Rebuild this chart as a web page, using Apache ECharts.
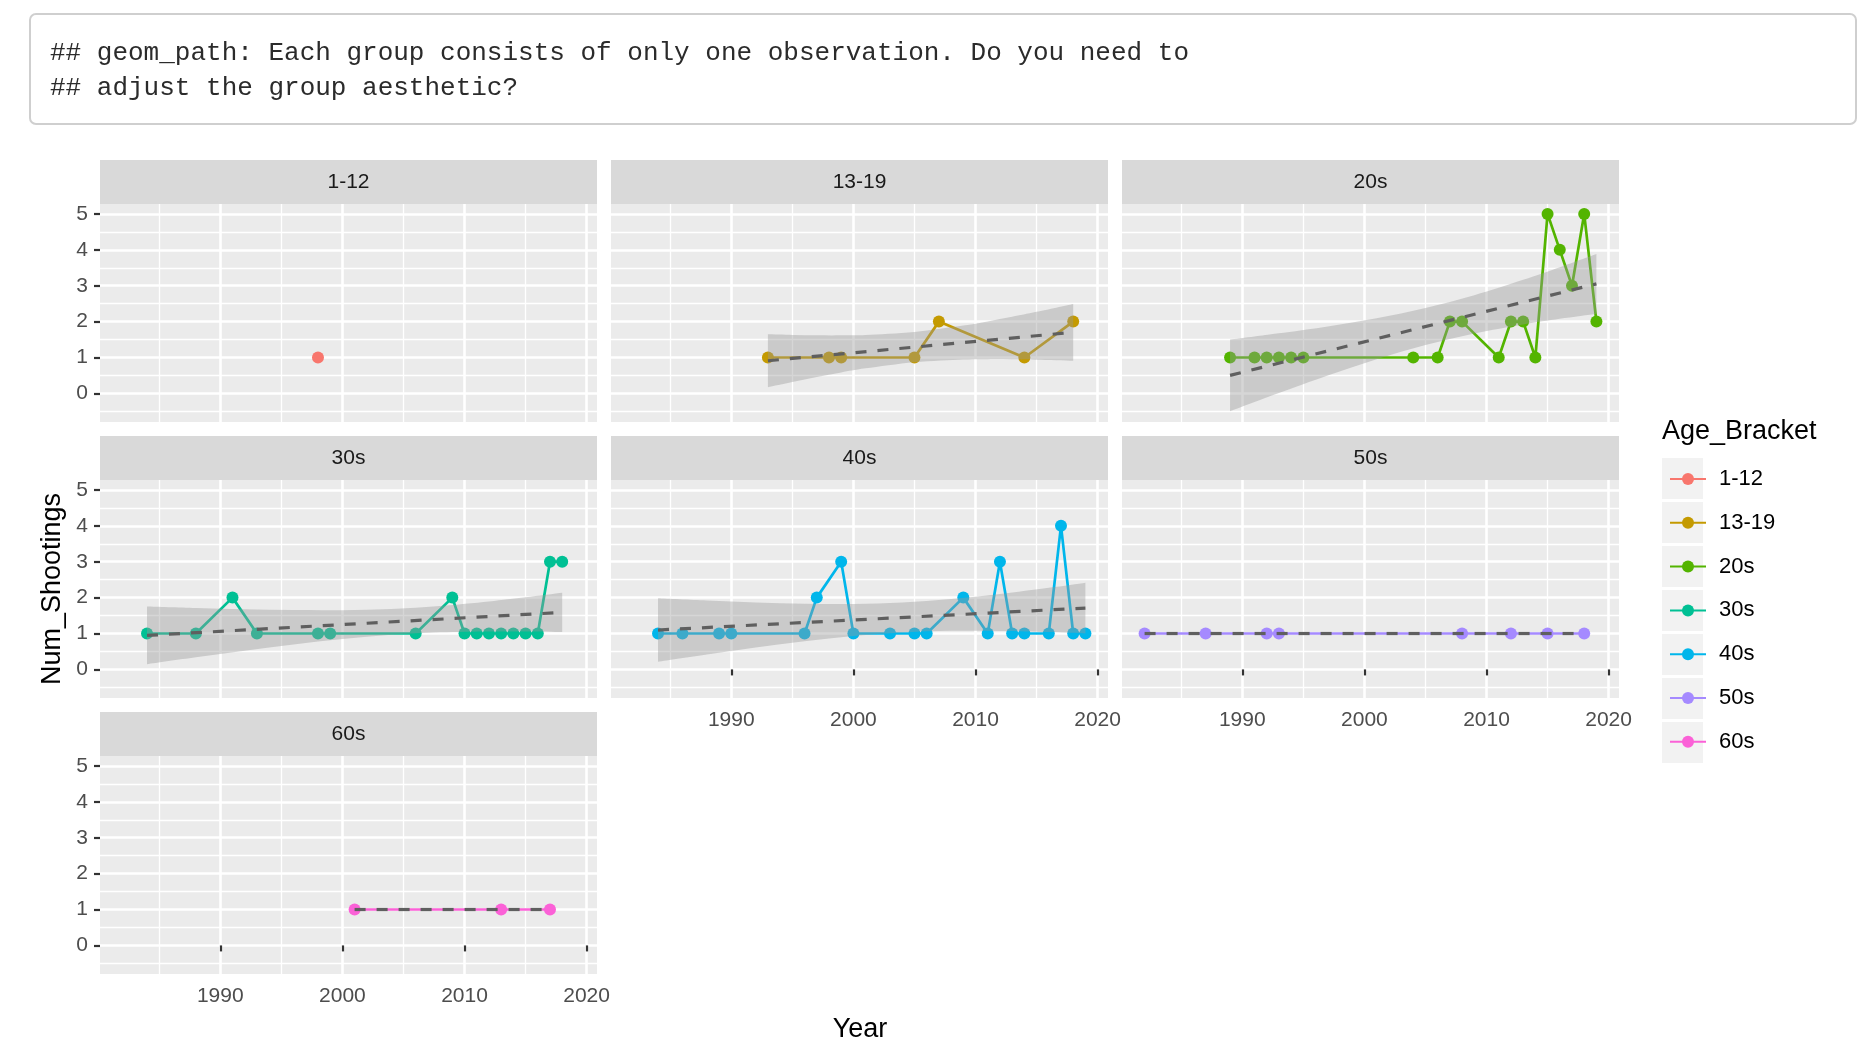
<!DOCTYPE html>
<html>
<head>
<meta charset="utf-8">
<script src="https://cdn.jsdelivr.net/npm/echarts@6/dist/echarts.min.js"></script>
<style>
html,body{margin:0;padding:0;background:#fff;}
#chart{width:1864px;height:1052px;}
</style>
</head>
<body>
<div id="chart"></div>
<script>
// ---------------- data ----------------
const brackets = ['1-12', '13-19', '20s', '30s', '40s', '50s', '60s'];
const colors = ['#F8766D', '#C49A00', '#53B400', '#00C094', '#00B6EB', '#A58AFF', '#FB61D7'];

const years_1_12 = [1998];
const shoot_1_12 = [1];
const years_13_19 = [1993, 1998, 1999, 2005, 2007, 2014, 2018];
const shoot_13_19 = [1, 1, 1, 1, 2, 1, 2];
const years_20s = [1989, 1991, 1992, 1993, 1994, 1995, 2004, 2006, 2007, 2008, 2011, 2012, 2013, 2014, 2015, 2016, 2017, 2018, 2019];
const shoot_20s = [1, 1, 1, 1, 1, 1, 1, 1, 2, 2, 1, 2, 2, 1, 5, 4, 3, 5, 2];
const years_30s = [1984, 1988, 1991, 1993, 1998, 1999, 2006, 2009, 2010, 2011, 2012, 2013, 2014, 2015, 2016, 2017, 2018];
const shoot_30s = [1, 1, 2, 1, 1, 1, 1, 2, 1, 1, 1, 1, 1, 1, 1, 3, 3];
const years_40s = [1984, 1986, 1989, 1990, 1996, 1997, 1999, 2000, 2003, 2005, 2006, 2009, 2011, 2012, 2013, 2014, 2016, 2017, 2018, 2019];
const shoot_40s = [1, 1, 1, 1, 1, 2, 3, 1, 1, 1, 1, 2, 1, 3, 1, 1, 1, 4, 1, 1];
const years_50s = [1982, 1987, 1992, 1993, 2008, 2012, 2015, 2018];
const shoot_50s = [1, 1, 1, 1, 1, 1, 1, 1];
const years_60s = [2001, 2013, 2017];
const shoot_60s = [1, 1, 1];

// dashed trend line (start / end)
const trendYears_13_19 = [1993, 2018]; const trendVals_13_19 = [0.910, 1.702];
const trendYears_20s = [1989, 2019];   const trendVals_20s = [0.503, 3.052];
const trendYears_30s = [1984, 2018];   const trendVals_30s = [0.948, 1.588];
const trendYears_40s = [1984, 2019];   const trendVals_40s = [1.097, 1.709];
const trendYears_50s = [1982, 2018];   const trendVals_50s = [1, 1];
const trendYears_60s = [2001, 2017];   const trendVals_60s = [1, 1];

// grey confidence band edges
const bandYears_13_19 = [1993, 1995, 1997, 1999, 2001, 2005, 2009, 2011, 2013, 2015, 2018];
const bandLow_13_19 = [0.174, 0.318, 0.456, 0.584, 0.698, 0.868, 0.945, 0.955, 0.952, 0.940, 0.912];
const bandHigh_13_19 = [1.646, 1.629, 1.618, 1.617, 1.629, 1.712, 1.889, 2.006, 2.135, 2.273, 2.493];
const bandYears_20s = [1989, 1991, 1993, 1997, 2001, 2005, 2009, 2013, 2016, 2019];
const bandLow_20s = [-0.496, -0.241, 0.011, 0.499, 0.953, 1.349, 1.670, 1.921, 2.079, 2.220];
const bandHigh_20s = [1.502, 1.587, 1.675, 1.867, 2.092, 2.376, 2.735, 3.163, 3.515, 3.884];
const bandYears_30s = [1984, 1988, 1992, 1996, 2000, 2004, 2008, 2012, 2015, 2018];
const bandLow_30s = [0.145, 0.337, 0.522, 0.695, 0.846, 0.963, 1.032, 1.057, 1.054, 1.039];
const bandHigh_30s = [1.750, 1.709, 1.674, 1.652, 1.651, 1.686, 1.767, 1.893, 2.009, 2.136];
const bandYears_40s = [1984, 1988, 1992, 1996, 2000, 2004, 2008, 2012, 2016, 2019];
const bandLow_40s = [0.215, 0.417, 0.609, 0.783, 0.929, 1.029, 1.074, 1.072, 1.039, 1.003];
const bandHigh_40s = [1.979, 1.917, 1.865, 1.830, 1.825, 1.864, 1.959, 2.101, 2.273, 2.415];

const xTickLabels = [1990, 2000, 2010, 2020];
const yTickLabels = [0, 1, 2, 3, 4, 5];
const messageLines = ['## geom_path: Each group consists of only one observation. Do you need to',
                      '## adjust the group aesthetic?'];

// ---------------- assembly ----------------
const panels = [
  {years: years_1_12, vals: shoot_1_12},
  {years: years_13_19, vals: shoot_13_19, tY: trendYears_13_19, tV: trendVals_13_19, bY: bandYears_13_19, bL: bandLow_13_19, bH: bandHigh_13_19},
  {years: years_20s, vals: shoot_20s, tY: trendYears_20s, tV: trendVals_20s, bY: bandYears_20s, bL: bandLow_20s, bH: bandHigh_20s},
  {years: years_30s, vals: shoot_30s, tY: trendYears_30s, tV: trendVals_30s, bY: bandYears_30s, bL: bandLow_30s, bH: bandHigh_30s},
  {years: years_40s, vals: shoot_40s, tY: trendYears_40s, tV: trendVals_40s, bY: bandYears_40s, bL: bandLow_40s, bH: bandHigh_40s},
  {years: years_50s, vals: shoot_50s, tY: trendYears_50s, tV: trendVals_50s},
  {years: years_60s, vals: shoot_60s, tY: trendYears_60s, tV: trendVals_60s}
];

const FONT = '"Liberation Sans", Arial, Helvetica, sans-serif';
const colLeft = [100, 611, 1122];
const rowTop = [204, 480, 756];
const PW = 497, PH = 218, STRIP = 44;
const showY = [true, false, false, true, false, false, true];
const showX = [false, false, false, false, true, true, true];

const grids = [], xAxes = [], yAxes = [], series = [], graphics = [];

graphics.push({type: 'rect', shape: {x: 30, y: 14, width: 1826, height: 110, r: 6},
  style: {fill: '#ffffff', stroke: '#cfcfcf', lineWidth: 2}, z: 0});
messageLines.forEach((t, k) => graphics.push({type: 'text', x: 50, y: 53 + k * 35,
  style: {text: t, fontFamily: '"Liberation Mono", "Courier New", monospace', fontSize: 26,
          fill: '#2b2b2b', verticalAlign: 'middle', align: 'left'}}));

const zip = (a, b) => a.map((v, k) => [v, b[k]]);

// smooth (Catmull-Rom -> Bezier) path segment through pixel points
function curveThrough(pts) {
  let s = '';
  const n = pts.length;
  for (let k = 0; k < n - 1; k++) {
    const p0 = pts[Math.max(k - 1, 0)], p1 = pts[k], p2 = pts[k + 1], p3 = pts[Math.min(k + 2, n - 1)];
    const c1 = [p1[0] + (p2[0] - p0[0]) / 6, p1[1] + (p2[1] - p0[1]) / 6];
    const c2 = [p2[0] - (p3[0] - p1[0]) / 6, p2[1] - (p3[1] - p1[1]) / 6];
    s += 'C' + c1[0] + ',' + c1[1] + ' ' + c2[0] + ',' + c2[1] + ' ' + p2[0] + ',' + p2[1];
  }
  return s;
}

brackets.forEach((name, i) => {
  const left = colLeft[i % 3], top = rowTop[Math.floor(i / 3)];
  grids.push({left: left, top: top, width: PW, height: PH, show: true,
              backgroundColor: '#ebebeb', borderWidth: 0, containLabel: false});
  graphics.push({type: 'rect', shape: {x: left, y: top - STRIP, width: PW, height: STRIP},
                 style: {fill: '#d9d9d9'}});
  graphics.push({type: 'text', x: left + PW / 2, y: top - STRIP / 2,
                 style: {text: name, fontFamily: FONT, fontSize: 21, fill: '#1a1a1a',
                         align: 'center', verticalAlign: 'middle'}});
  xAxes.push({
    gridIndex: i, type: 'value', min: 1980.15, max: 2020.85, minInterval: 10, maxInterval: 10,
    axisLine: {show: false},
    axisTick: {show: showX[i], length: 6, customValues: xTickLabels, lineStyle: {color: '#333333', width: 2.2}},
    axisLabel: {show: showX[i], customValues: xTickLabels, margin: 12, color: '#4d4d4d', fontSize: 21,
                fontFamily: FONT, formatter: v => String(v)},
    splitLine: {show: true, lineStyle: {color: '#ffffff', width: 2.6}},
    minorTick: {show: false, splitNumber: 2},
    minorSplitLine: {show: true, lineStyle: {color: '#ffffff', width: 1.3}}
  });
  const yAx = {
    gridIndex: i, type: 'value', min: -0.796, max: 5.276, minInterval: 1, maxInterval: 1,
    axisLine: {show: false},
    axisTick: {show: showY[i], length: 6, customValues: yTickLabels, lineStyle: {color: '#333333', width: 2.2}},
    axisLabel: {show: showY[i], customValues: yTickLabels, margin: 12, color: '#4d4d4d', fontSize: 21,
                fontFamily: FONT, formatter: v => String(v)},
    splitLine: {show: true, lineStyle: {color: '#ffffff', width: 2.6}},
    minorTick: {show: false, splitNumber: 2},
    minorSplitLine: {show: true, lineStyle: {color: '#ffffff', width: 1.3}}
  };
  if (i === 3) {
    yAx.name = 'Num_Shootings';
    yAx.nameLocation = 'middle';
    yAx.nameGap = 34;
    yAx.nameTextStyle = {fontFamily: FONT, fontSize: 27, color: '#000000'};
  }
  yAxes.push(yAx);

  const p = panels[i];
  series.push({
    type: 'line', name: name, xAxisIndex: i, yAxisIndex: i,
    data: zip(p.years, p.vals), symbol: 'circle', symbolSize: 12, showSymbol: true,
    itemStyle: {color: colors[i]}, lineStyle: {color: colors[i], width: 2.7},
    z: 2, silent: true, animation: false
  });
  if (p.bY) {
    series.push({
      type: 'custom', name: 'band_' + name, xAxisIndex: i, yAxisIndex: i,
      coordinateSystem: 'cartesian2d', silent: true, z: 3,
      data: [[p.bY[0], p.bL[0]]],
      renderItem: function (params, api) {
        const up = p.bY.map((y, k) => api.coord([y, p.bH[k]]));
        const lo = p.bY.map((y, k) => api.coord([y, p.bL[k]])).reverse();
        const d = 'M' + up[0][0] + ',' + up[0][1] + curveThrough(up) +
                  'L' + lo[0][0] + ',' + lo[0][1] + curveThrough(lo) + 'Z';
        return {type: 'path', shape: {pathData: d}, style: {fill: 'rgba(153,153,153,0.4)', stroke: null}};
      }
    });
  }
  if (p.tY) {
    series.push({
      type: 'line', name: 'trend_' + name, xAxisIndex: i, yAxisIndex: i,
      data: zip(p.tY, p.tV), symbol: 'none',
      lineStyle: {color: '#5f5f5f', width: 3.2, type: [11, 11]}, z: 4, silent: true
    });
  }
});

// full-width grid only used to centre the x-axis title
grids.push({left: 100, top: 756, width: 1520, height: 218, show: false});
xAxes.push({gridIndex: 7, type: 'value', min: 0, max: 1, axisLine: {show: false}, axisTick: {show: false},
  axisLabel: {show: false}, splitLine: {show: false},
  name: 'Year', nameLocation: 'middle', nameGap: 42,
  nameTextStyle: {fontFamily: FONT, fontSize: 27, color: '#000000'}});
yAxes.push({gridIndex: 7, type: 'value', show: false, splitLine: {show: false}});

// legend key backgrounds + title
brackets.forEach((b, k) => graphics.push({type: 'rect',
  shape: {x: 1662, y: 458 + k * 44, width: 41, height: 41}, style: {fill: '#f2f2f2'}}));
graphics.push({type: 'text', x: 1662, y: 432, style: {text: 'Age_Bracket', fontFamily: FONT,
  fontSize: 27, fill: '#000000', verticalAlign: 'middle', align: 'left'}});

const option = {
  animation: false,
  backgroundColor: '#ffffff',
  grid: grids, xAxis: xAxes, yAxis: yAxes, series: series,
  legend: {
    data: brackets, orient: 'vertical', left: 1664, top: 463,
    itemWidth: 36, itemHeight: 15, itemGap: 21.8, selectedMode: false,
    textStyle: {fontFamily: FONT, fontSize: 22, color: '#000000', lineHeight: 15, padding: [0, 0, 0, 8]}
  },
  graphic: graphics
};

const chart = echarts.init(document.getElementById('chart'), null, {renderer: 'canvas'});
chart.setOption(option);
</script>
</body>
</html>
